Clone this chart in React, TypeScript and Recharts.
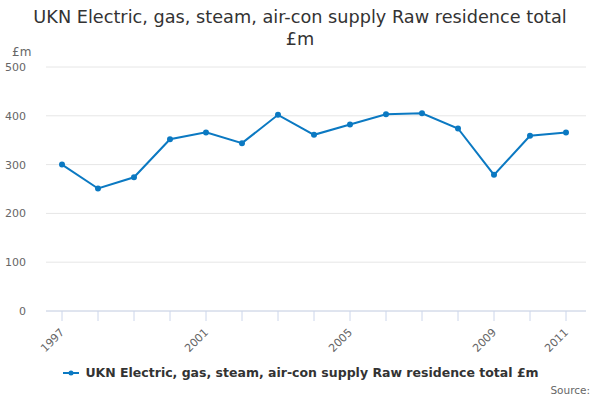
import React from "react";
import { CartesianGrid, Legend, Line, LineChart, XAxis, YAxis } from "recharts";

// values
const years = [
  "1997", "1998", "1999", "2000", "2001", "2002", "2003", "2004",
  "2005", "2006", "2007", "2008", "2009", "2010", "2011",
];
const values = [300, 251, 274, 352, 366, 344, 402, 361, 382, 403, 405, 374, 279, 359, 366];
const labelledYears = ["1997", "2001", "2005", "2009", "2011"];
const yTicks = [0, 100, 200, 300, 400, 500];

const seriesName = "UKN Electric, gas, steam, air-con supply Raw residence total £m";
const data = years.map((year, i) => ({ year, value: values[i] }));

const FONT = "'DejaVu Sans', Verdana, sans-serif";
const BLUE = "#0b79c2";

const YearTick = (props: any) => {
  const { x, y, payload } = props;
  const show = labelledYears.includes(payload.value);
  return (
    <g>
      <line x1={x} y1={y - 8} x2={x} y2={y + 2} stroke="#ccd6eb" />
      {show && (
        <text
          x={x + 3}
          y={y + 14}
          transform={`rotate(-45, ${x + 3}, ${y + 14})`}
          textAnchor="end"
          fill="#666"
          fontSize={11}
          fontFamily={FONT}
        >
          {payload.value}
        </text>
      )}
    </g>
  );
};

const LegendContent = () => (
  <div
    style={{
      display: "flex",
      justifyContent: "center",
      alignItems: "center",
      fontFamily: FONT,
      fontSize: 12.5,
      fontWeight: "bold",
      color: "#333",
    }}
  >
    <svg width={20} height={10} style={{ marginRight: 4 }}>
      <line x1={2} y1={5} x2={18} y2={5} stroke={BLUE} strokeWidth={2} />
      <circle cx={10} cy={5} r={2.5} fill={BLUE} />
    </svg>
    <span>{seriesName}</span>
  </div>
);

export default function App() {
  return (
    <div style={{ position: "absolute", left: 0, top: 0, width: 600, height: 400, background: "#fff" }}>
      <div
        style={{
          position: "absolute",
          top: 6,
          left: 0,
          width: 600,
          textAlign: "center",
          fontFamily: FONT,
          fontSize: 17.7,
          lineHeight: "22px",
          color: "#333",
        }}
      >
        UKN Electric, gas, steam, air-con supply Raw residence total
        <br />
        £m
      </div>
      <div
        style={{
          position: "absolute",
          top: 45,
          left: 12,
          fontFamily: FONT,
          fontSize: 12,
          color: "#666",
        }}
      >
        £m
      </div>
      <LineChart
        width={600}
        height={400}
        data={data}
        margin={{ top: 67, right: 14, bottom: 11, left: 0 }}
      >
        <CartesianGrid vertical={false} stroke="#e6e6e6" />
        <XAxis
          dataKey="year"
          interval={0}
          tickLine={false}
          tick={<YearTick />}
          stroke="#ccd6eb"
          height={60}
          padding={{ left: 16, right: 20 }}
        />
        <YAxis
          width={46}
          domain={[0, 500]}
          ticks={yTicks}
          axisLine={false}
          tickLine={false}
          tick={{ fill: "#666", fontSize: 11, fontFamily: FONT }}
          tickMargin={14}
        />
        <Legend
          content={<LegendContent />}
          wrapperStyle={{ position: "absolute", top: 365, left: 0, width: 600, height: 18 }}
          height={0}
        />
        <Line
          type="linear"
          dataKey="value"
          name={seriesName}
          stroke={BLUE}
          strokeWidth={2}
          dot={{ r: 2, fill: BLUE, stroke: BLUE }}
          activeDot={false}
          isAnimationActive={false}
        />
      </LineChart>
      <div
        style={{
          position: "absolute",
          right: 10,
          top: 384,
          fontFamily: FONT,
          fontSize: 10.5,
          color: "#666",
        }}
      >
        Source:
      </div>
    </div>
  );
}
